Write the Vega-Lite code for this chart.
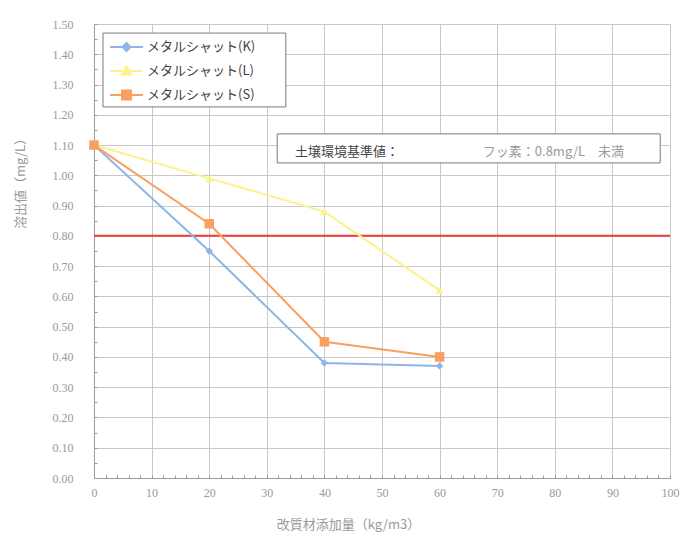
{
  "$schema": "https://vega.github.io/schema/vega-lite/v6.json",
  "width": 576,
  "height": 454,
  "autosize": {"type": "none"},
  "padding": {"left": 94, "top": 24, "right": 16, "bottom": 57},
  "background": "white",
  "config": {
    "view": {"stroke": "#9a9a9a", "strokeWidth": 1},
    "axis": {
      "labelFont": "Liberation Serif",
      "labelFontSize": 12,
      "labelColor": "#9a9a9a",
      "titleFont": "Noto Sans CJK JP",
      "titleFontSize": 13,
      "titleFontWeight": "normal",
      "titleColor": "#9a9a9a",
      "gridColor": "#c8c8c8",
      "domainColor": "#9a9a9a",
      "tickColor": "#9a9a9a"
    }
  },
  "datasets": {
    "series": [
      {"x": 0, "y": 1.10, "series": "メタルシャット(K)"},
      {"x": 20, "y": 0.75, "series": "メタルシャット(K)"},
      {"x": 40, "y": 0.38, "series": "メタルシャット(K)"},
      {"x": 60, "y": 0.37, "series": "メタルシャット(K)"},
      {"x": 0, "y": 1.10, "series": "メタルシャット(L)"},
      {"x": 20, "y": 0.99, "series": "メタルシャット(L)"},
      {"x": 40, "y": 0.88, "series": "メタルシャット(L)"},
      {"x": 60, "y": 0.62, "series": "メタルシャット(L)"},
      {"x": 0, "y": 1.10, "series": "メタルシャット(S)"},
      {"x": 20, "y": 0.84, "series": "メタルシャット(S)"},
      {"x": 40, "y": 0.45, "series": "メタルシャット(S)"},
      {"x": 60, "y": 0.40, "series": "メタルシャット(S)"}
    ],
    "limit": [{"x": 0, "x2": 100, "y": 0.8}],
    "box": [
      {"x": 31.8, "x2": 98.3, "y": 1.137, "y2": 1.041},
      {"x": 1.56, "x2": 33.3, "y": 1.470, "y2": 1.226}
    ],
    "noteA": [{"x": 34.9, "y": 1.077, "text": "土壌環境基準値："}],
    "noteB": [{"x": 67.5, "y": 1.077, "text": "フッ素：0.8mg/L　未満"}]
  },
  "encoding": {
    "x": {
      "field": "x",
      "type": "quantitative",
      "scale": {"domain": [0, 100], "nice": false, "zero": false},
      "axis": {
        "title": "改質材添加量（kg/m3）",
        "values": [0,2,4,6,8,10,12,14,16,18,20,22,24,26,28,30,32,34,36,38,40,42,44,46,48,50,52,54,56,58,60,62,64,66,68,70,72,74,76,78,80,82,84,86,88,90,92,94,96,98,100],
        "labelExpr": "datum.value % 10 == 0 ? datum.label : ''",
        "labelFont": "Liberation Serif",
        "gridOpacity": {"condition": {"test": "datum.value % 10 != 0", "value": 0}, "value": 1},
        "tickSize": -3,
        "labelPadding": 12,
        "labelFlush": false,
        "titleX": 254,
        "titleY": 46,
        "titleAlign": "center",
        "titleBaseline": "middle"
      }
    },
    "y": {
      "field": "y",
      "type": "quantitative",
      "scale": {"domain": [0, 1.5], "nice": false, "zero": false},
      "axis": {
        "title": "溶出値（mg/L）",
        "values": [0,0.05,0.1,0.15,0.2,0.25,0.3,0.35,0.4,0.45,0.5,0.55,0.6,0.65,0.7,0.75,0.8,0.85,0.9,0.95,1.0,1.05,1.1,1.15,1.2,1.25,1.3,1.35,1.4,1.45,1.5],
        "format": ".2f",
        "labelExpr": "round(datum.value*100) % 10 == 0 ? datum.label : ''",
        "labelFont": "Liberation Serif",
        "gridOpacity": {"condition": {"test": "round(datum.value*100) % 10 != 0", "value": 0}, "value": 1},
        "tickSize": -3,
        "labelPadding": 24,
        "labelFlush": false,
        "titleAngle": -90,
        "titleX": -74,
        "titleY": 156,
        "titleAlign": "center",
        "titleBaseline": "middle"
      }
    }
  },
  "layer": [
    {
      "data": {"name": "box"},
      "mark": {"type": "rect", "fill": "white", "stroke": "#7a7a7a", "strokeWidth": 1},
      "encoding": {"x2": {"field": "x2"}, "y2": {"field": "y2"}}
    },
    {
      "data": {"name": "noteA"},
      "mark": {"type": "text", "align": "left", "baseline": "middle", "font": "Noto Sans CJK JP", "fontSize": 13, "color": "#444444"},
      "encoding": {"text": {"field": "text"}}
    },
    {
      "data": {"name": "noteB"},
      "mark": {"type": "text", "align": "left", "baseline": "middle", "font": "Noto Sans CJK JP", "fontSize": 13, "color": "#9a9a9a"},
      "encoding": {"text": {"field": "text"}}
    },
    {
      "data": {"name": "limit"},
      "mark": {"type": "rule", "color": "#f03c3c", "strokeWidth": 2},
      "encoding": {"x2": {"field": "x2"}}
    },
    {
      "data": {"name": "series"},
      "mark": {"type": "line", "strokeWidth": 2},
      "encoding": {
        "color": {
          "field": "series",
          "type": "nominal",
          "scale": {"domain": ["メタルシャット(K)", "メタルシャット(L)", "メタルシャット(S)"], "range": ["#8db6e6", "#fbf28a", "#f8a060"]},
          "legend": {
            "title": null,
            "orient": "none",
            "legendX": 15,
            "legendY": 14,
            "padding": 0,
            "strokeColor": null,
            "fillColor": null,
            "symbolSize": 256,
            "symbolStrokeWidth": 2,
            "labelFont": "Noto Sans CJK JP",
            "labelFontSize": 13,
            "labelColor": "#404040",
            "labelOffset": 20,
            "rowPadding": 7,
            "encode": {
              "symbols": {
                "update": {
                  "shape": {"signal": "datum.value == 'メタルシャット(K)' ? 'M-1,0H3.125M1.0625,-0.5L1.5625,0L1.0625,0.5L0.5625,0Z' : datum.value == 'メタルシャット(L)' ? 'M-1,0H3.125M1.0625,-0.55L1.6625,0.45L0.4625,0.45Z' : 'M-1,0H3.125M0.5,-0.5625H1.625V0.5625H0.5Z'"},
                  "fill": {"scale": "color", "field": "value"},
                  "stroke": {"scale": "color", "field": "value"},
                  "strokeWidth": {"value": 2},
                  "fillOpacity": {"value": 1}
                }
              }
            }
          }
        }
      }
    },
    {
      "data": {"name": "series"},
      "transform": [{"filter": "datum.series == 'メタルシャット(K)'"}],
      "mark": {"type": "point", "filled": true, "opacity": 1, "shape": "diamond", "size": 55, "color": "#8db6e6"}
    },
    {
      "data": {"name": "series"},
      "transform": [{"filter": "datum.series == 'メタルシャット(L)'"}],
      "mark": {"type": "point", "filled": true, "opacity": 1, "shape": "triangle-up", "size": 60, "color": "#fbf28a"}
    },
    {
      "data": {"name": "series"},
      "transform": [{"filter": "datum.series == 'メタルシャット(S)'"}],
      "mark": {"type": "point", "filled": true, "opacity": 1, "shape": "square", "size": 90, "color": "#f8a060"}
    }
  ]
}
